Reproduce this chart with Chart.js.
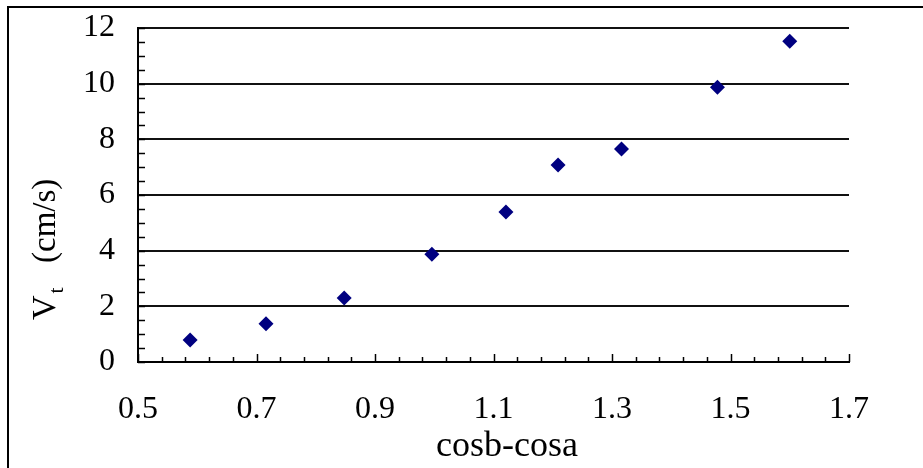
<!DOCTYPE html>
<html>
<head>
<meta charset="utf-8">
<script src="https://cdn.jsdelivr.net/npm/chart.js@4/dist/chart.umd.min.js"></script>
<style>
html,body{margin:0;padding:0;background:#fff;overflow:hidden;}
canvas{display:block;}
</style>
</head>
<body>
<canvas id="c" width="923" height="468"></canvas>
<script>
// ---- data ----
const xValues = [0.588, 0.716, 0.848, 0.996, 1.121, 1.209, 1.316, 1.478, 1.600];
const yValues = [0.79, 1.37, 2.30, 3.87, 5.39, 7.08, 7.65, 9.87, 11.52];
const xTickLabels = [0.5, 0.7, 0.9, 1.1, 1.3, 1.5, 1.7];
const yTickLabels = [0, 2, 4, 6, 8, 10, 12];
const xTitle = 'cosb-cosa';
const yTitleMain = 'V';
const yTitleSub = 't';
const yTitleUnit = '(cm/s)';

const SERIF = "'Liberation Serif', 'Times New Roman', serif";

const decor = {
  id: 'decor',
  beforeDraw(chart) {
    const ctx = chart.ctx;
    ctx.save();
    ctx.fillStyle = '#fff';
    ctx.fillRect(0, 0, chart.width, chart.height);
    ctx.strokeStyle = '#000';
    ctx.lineWidth = 2;
    ctx.strokeRect(8, 7, 3000, 3000);
    ctx.restore();
  },
  afterDraw(chart) {
    const ctx = chart.ctx;
    const xs = chart.scales.x, ys = chart.scales.y;
    const area = chart.chartArea;
    ctx.save();
    ctx.strokeStyle = '#000';
    ctx.lineWidth = 1.5;
    // x ticks (inside): minor every 0.04, major every 0.2
    const xMin = xTickLabels[0], xMax = xTickLabels[xTickLabels.length - 1];
    const xSteps = Math.round((xMax - xMin) / 0.04);
    for (let i = 0; i <= xSteps; i++) {
      const v = xMin + i * 0.04;
      const px = Math.round(xs.getPixelForValue(v)) + 0.5;
      const len = (i % 5 === 0) ? 8 : 5;
      ctx.beginPath();
      ctx.moveTo(px, area.bottom);
      ctx.lineTo(px, area.bottom - len);
      ctx.stroke();
    }
    // y ticks (inside): minor every 0.5
    const yMin = yTickLabels[0], yMax = yTickLabels[yTickLabels.length - 1];
    const ySteps = Math.round((yMax - yMin) / 0.5);
    for (let i = 0; i <= ySteps; i++) {
      const v = yMin + i * 0.5;
      const py = Math.round(ys.getPixelForValue(v)) + 0.5;
      const len = 7;
      ctx.beginPath();
      ctx.moveTo(area.left, py);
      ctx.lineTo(area.left + len, py);
      ctx.stroke();
    }
    // x title
    ctx.fillStyle = '#000';
    ctx.font = '36px ' + SERIF;
    ctx.textAlign = 'center';
    ctx.textBaseline = 'alphabetic';
    ctx.fillText(xTitle, 507, 456);
    // y title (rotated, with subscript)
    ctx.translate(55, 320);
    ctx.rotate(-Math.PI / 2);
    ctx.textAlign = 'left';
    ctx.font = '34px ' + SERIF;
    ctx.fillText(yTitleMain, 0, 0);
    const wV = ctx.measureText(yTitleMain).width;
    ctx.font = '22px ' + SERIF;
    ctx.fillText(yTitleSub, wV + 2, 8);
    ctx.font = '33px ' + SERIF;
    ctx.fillText(yTitleUnit, 57, 0);
    ctx.restore();
  }
};

new Chart(document.getElementById('c'), {
  type: 'scatter',
  data: {
    datasets: [{
      data: xValues.map((x, i) => ({ x: x, y: yValues[i] })),
      backgroundColor: '#000080',
      borderColor: '#000080',
      borderWidth: 0,
      pointStyle: 'rectRot',
      pointRadius: 7.5,
      pointHoverRadius: 7.5
    }]
  },
  options: {
    responsive: false,
    animation: false,
    events: [],
    layout: { padding: { left: 0, top: 28, right: 74, bottom: 0 } },
    plugins: { legend: { display: false }, tooltip: { enabled: false } },
    scales: {
      x: {
        type: 'linear',
        min: xTickLabels[0],
        max: xTickLabels[xTickLabels.length - 1],
        afterBuildTicks(scale) { scale.ticks = xTickLabels.map(v => ({ value: v })); },
        afterFit(scale) { scale.height = 106; scale.paddingLeft = 0; scale.paddingRight = 0; },
        grid: { display: false, drawTicks: false },
        border: { display: true, color: '#000', width: 2 },
        ticks: {
          color: '#000',
          padding: 28,
          maxRotation: 0,
          autoSkip: false,
          font: { family: SERIF, size: 32 },
          callback: (v) => Number(v).toFixed(1)
        }
      },
      y: {
        type: 'linear',
        min: yTickLabels[0],
        max: yTickLabels[yTickLabels.length - 1],
        afterBuildTicks(scale) { scale.ticks = yTickLabels.map(v => ({ value: v })); },
        afterFit(scale) { scale.width = 138; scale.paddingTop = 0; scale.paddingBottom = 0; },
        grid: { display: true, color: '#111', lineWidth: 2, drawTicks: false },
        border: { display: true, color: '#000', width: 2 },
        ticks: {
          color: '#000',
          padding: 23,
          autoSkip: false,
          font: { family: SERIF, size: 32 },
          callback: (v) => String(v)
        }
      }
    }
  },
  plugins: [decor]
});
</script>
</body>
</html>
